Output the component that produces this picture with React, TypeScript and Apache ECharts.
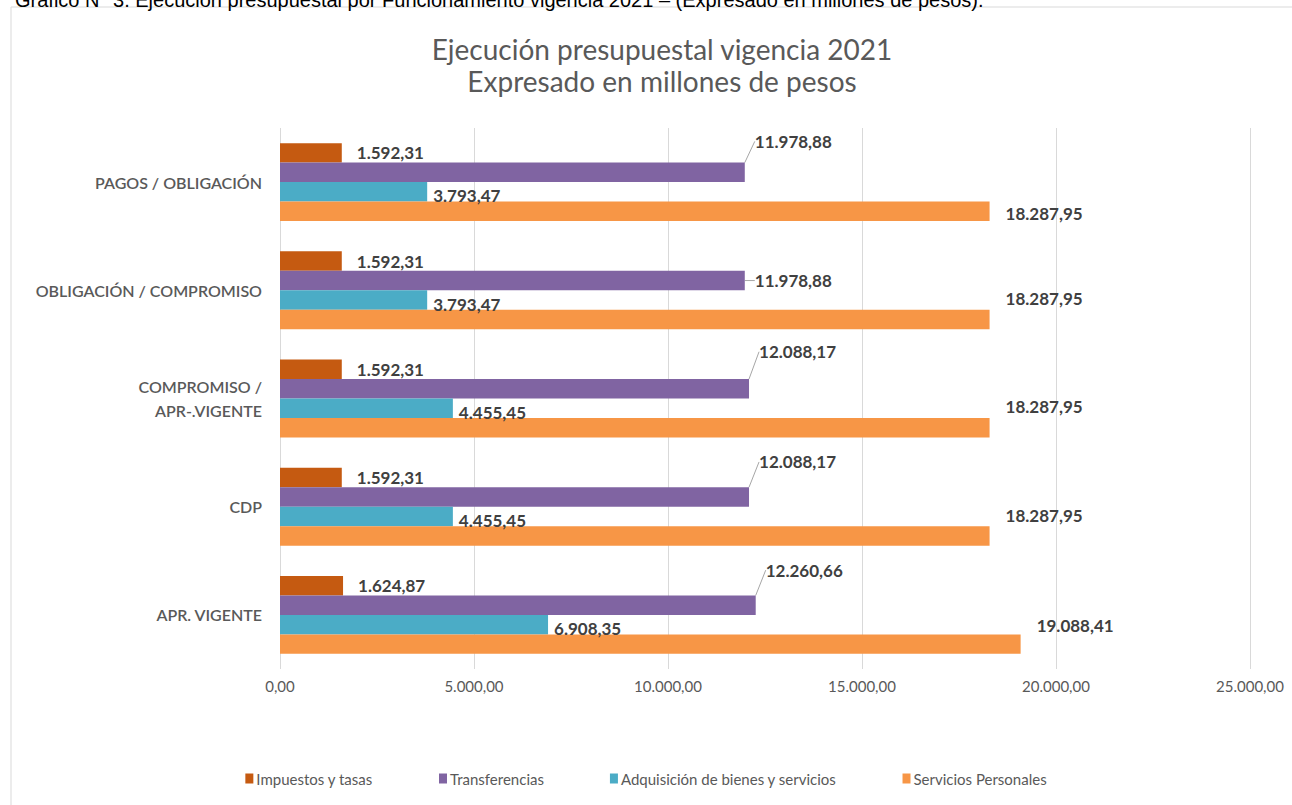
import React, { useEffect, useRef } from "react";
import * as echarts from "echarts";

const categories = [
  "PAGOS / OBLIGACIÓN",
  "OBLIGACIÓN / COMPROMISO",
  "COMPROMISO /\nAPR-.VIGENTE",
  "CDP",
  "APR. VIGENTE",
];
const seriesNames = [
  "Impuestos y tasas",
  "Transferencias",
  "Adquisición de bienes y servicios",
  "Servicios Personales",
];
const impuestos = [1592.31, 1592.31, 1592.31, 1592.31, 1624.87];
const transferencias = [11978.88, 11978.88, 12088.17, 12088.17, 12260.66];
const adquisicion = [3793.47, 3793.47, 4455.45, 4455.45, 6908.35];
const servicios = [18287.95, 18287.95, 18287.95, 18287.95, 19088.41];
const axisTicks = [0, 5000, 10000, 15000, 20000, 25000];

const colors = ["#C55A11", "#8064A2", "#4BACC6", "#F79646"];

// label placement tweaks (pixels)
const transDy = [-31, 0, -37, -35, -35];
const servDy = [2, -21, -21, -20, -19];

const FONT = "Lato";

function fmt(v: number): string {
  const fixed = v.toFixed(2);
  const [intPart, dec] = fixed.split(".");
  const withDots = intPart.replace(/\B(?=(\d{3})+(?!\d))/g, ".");
  return withDots + "," + dec;
}

export default function App() {
  const ref = useRef<HTMLDivElement>(null);
  useEffect(() => {
    document.body.style.margin = "0";
    const chart = echarts.init(ref.current!, undefined, { renderer: "svg" });
    const labelBase = {
      show: true,
      position: "right" as const,
      color: "#404040",
      fontWeight: "bold" as const,
      fontSize: 17,
      fontFamily: FONT,
      formatter: (p: any) => fmt(p.value),
    };
    const values = [impuestos, transferencias, adquisicion, servicios];
    const series = values.map((arr, si) => {
      const s: any = {
        name: seriesNames[si],
        type: "bar",
        data: arr,
        barGap: "0%",
        barCategoryGap: "28%",
        itemStyle: { color: colors[si] },
        label: { ...labelBase, distance: si === 0 ? 15 : si === 1 ? 10 : si === 2 ? 6 : 16 },
      };
      if (si === 1) {
        s.labelLine = { show: true, lineStyle: { color: "#A6A6A6", width: 1 } };
        s.labelLayout = (p: any) => ({ dy: transDy[p.dataIndex] });
      }
      if (si === 2) {
        s.labelLayout = () => ({ dy: 4 });
      }
      if (si === 3) {
        s.labelLayout = (p: any) => ({ dy: servDy[p.dataIndex] });
      }
      return s;
    });
    chart.setOption({
      animation: false,
      textStyle: { fontFamily: FONT },
      title: {
        text: "Ejecución presupuestal vigencia 2021\nExpresado en millones de pesos",
        left: 657,
        textAlign: "center",
        top: 28,
        textStyle: {
          color: "#595959",
          fontSize: 28,
          fontWeight: "normal",
          fontFamily: FONT,
          lineHeight: 32,
        },
      },
      graphic: [
        {
          type: "rect",
          shape: { x: 11, y: 7, width: 1300, height: 820 },
          style: { fill: "none", stroke: "#D9D9D9", lineWidth: 1 },
          silent: true,
        },
        {
          type: "text",
          x: 15,
          y: 10,
          style: {
            text: "Gráfico N° 3. Ejecución presupuestal por Funcionamiento vigencia 2021 – (Expresado en millones de pesos).",
            fill: "#000000",
            fontSize: 20,
            fontFamily: "Liberation Sans",
            verticalAlign: "bottom",
          },
          silent: true,
        },
      ],
      legend: {
        bottom: 14,
        left: "center",
        itemWidth: 8,
        itemHeight: 10,
        itemGap: 66,
        icon: "rect",
        textStyle: { color: "#595959", fontSize: 15, fontFamily: FONT, padding: [0, 0, 0, -2] },
        data: seriesNames,
      },
      grid: { left: 280, right: 42, top: 128, bottom: 136 },
      xAxis: {
        type: "value",
        min: axisTicks[0],
        max: axisTicks[axisTicks.length - 1],
        interval: axisTicks[1] - axisTicks[0],
        axisLine: { show: false },
        axisTick: { show: false },
        splitLine: { show: true, lineStyle: { color: "#D9D9D9", width: 1 } },
        axisLabel: {
          color: "#595959",
          fontSize: 15,
          fontFamily: FONT,
          margin: 9,
          formatter: (v: number) => fmt(v),
        },
      },
      yAxis: {
        type: "category",
        inverse: true,
        data: categories,
        axisLine: { show: false },
        axisTick: { show: false },
        axisLabel: {
          color: "#595959",
          fontSize: 16,
          fontWeight: 600,
          fontFamily: FONT,
          margin: 18,
          align: "right",
          lineHeight: 24,
        },
      },
      series,
    });
    return () => chart.dispose();
  }, []);
  return <div ref={ref} style={{ width: 1292, height: 805, background: "#fff" }} />;
}
